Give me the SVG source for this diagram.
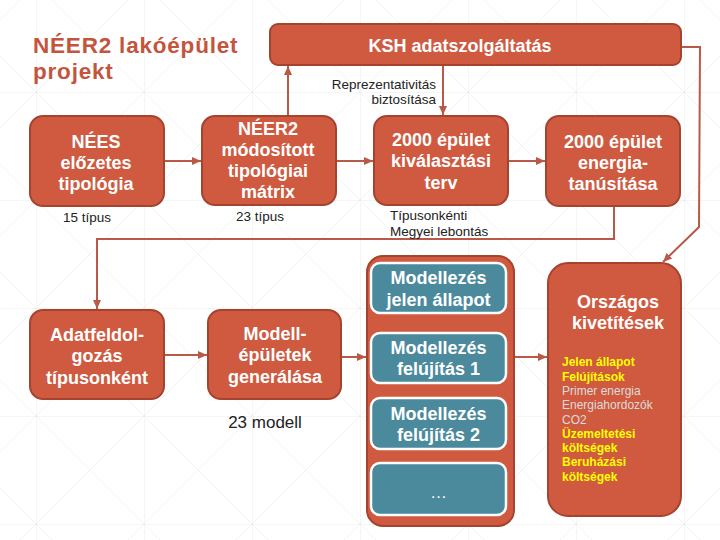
<svg xmlns="http://www.w3.org/2000/svg" width="720" height="540" viewBox="0 0 720 540">
<style>
.box{fill:#cf5a3f;stroke:#a5432f;stroke-width:2}
.inner{fill:#4b8a9c;stroke:#ffffff;stroke-width:2.5}
.bt{font-family:"Liberation Sans",Arial,sans-serif;font-weight:bold;font-size:18px;fill:#ffffff;text-anchor:middle}
.lbl{font-family:"Liberation Sans",Arial,sans-serif;font-size:13.5px;fill:#222222}
.con{fill:none;stroke:#b85a47;stroke-width:2}
.title{font-family:"Liberation Sans",Arial,sans-serif;font-weight:bold;font-size:22.5px;fill:#c4553d}
.yl{font-family:"Liberation Sans",Arial,sans-serif;font-weight:bold;font-size:12px;fill:#ffff00}
.gr{font-family:"Liberation Sans",Arial,sans-serif;font-size:12px;fill:#dcdcdc}
</style>
<defs>
<marker id="ah" markerWidth="10" markerHeight="10" refX="9" refY="5" orient="auto" markerUnits="userSpaceOnUse">
<path d="M0,1 L9,5 L0,9 Z" fill="#b85a47"/>
</marker>
<pattern id="grid" width="108" height="108" patternUnits="userSpaceOnUse" x="-72" y="-16">
<path d="M0,0 L108,108 M108,0 L0,108" stroke="#f3f3f3" stroke-width="1" fill="none"/>
<path d="M0,0 H108 M0,0 V108" stroke="#ececec" stroke-width="1" fill="none"/>
</pattern>
</defs>
<rect width="720" height="540" fill="#ffffff"/>
<rect width="720" height="540" fill="url(#grid)"/>

<g id="title">
<text class="title" x="33" y="53" letter-spacing="0.8">NÉER2 lakóépület</text>
<text class="title" x="33" y="79" letter-spacing="0.8">projekt</text>
</g>

<g id="connectors">
<line class="con" x1="164" y1="161" x2="201" y2="161" marker-end="url(#ah)"/>
<line class="con" x1="336" y1="161" x2="373" y2="161" marker-end="url(#ah)"/>
<line class="con" x1="508" y1="161" x2="545" y2="161" marker-end="url(#ah)"/>
<line class="con" x1="288" y1="116" x2="288" y2="66" marker-end="url(#ah)"/>
<line class="con" x1="443" y1="65" x2="443" y2="115" marker-end="url(#ah)"/>
<polyline class="con" points="681,47 700,47 699,227 663,262" marker-end="url(#ah)"/>
<polyline class="con" points="614,206 614,239 97,239 97,309" marker-end="url(#ah)"/>
<line class="con" x1="164" y1="355" x2="207" y2="355" marker-end="url(#ah)"/>
<line class="con" x1="341" y1="357" x2="366" y2="357" marker-end="url(#ah)"/>
<line class="con" x1="505" y1="357" x2="547" y2="357" marker-end="url(#ah)"/>
</g>

<g id="ksh">
<rect class="box" x="270" y="24" width="411" height="41" rx="8"/>
<text class="bt" x="460" y="52">KSH adatszolgáltatás</text>
</g>
<g id="repr-label">
<text class="lbl" x="436" y="89" text-anchor="end">Reprezentativitás</text>
<text class="lbl" x="436" y="104" text-anchor="end">biztosítása</text>
</g>

<g id="nees">
<rect class="box" x="30" y="116" width="134" height="90" rx="13"/>
<text class="bt" x="96" y="148">NÉES</text>
<text class="bt" x="96" y="169">előzetes</text>
<text class="bt" x="96" y="190">tipológia</text>
<text class="lbl" x="87" y="222" text-anchor="middle">15 típus</text>
</g>

<g id="neer2">
<rect class="box" x="202" y="116" width="134" height="89" rx="13"/>
<text class="bt" x="268" y="135">NÉER2</text>
<text class="bt" x="268" y="156">módosított</text>
<text class="bt" x="268" y="177">tipológiai</text>
<text class="bt" x="268" y="198">mátrix</text>
<text class="lbl" x="260" y="221" text-anchor="middle">23 típus</text>
</g>

<g id="kivalasztas">
<rect class="box" x="374" y="116" width="134" height="89" rx="13"/>
<text class="bt" x="441" y="146">2000 épület</text>
<text class="bt" x="441" y="167">kiválasztási</text>
<text class="bt" x="441" y="189">terv</text>
<text class="lbl" x="390" y="220">Típusonkénti</text>
<text class="lbl" x="390" y="236">Megyei lebontás</text>
</g>

<g id="tanusitas">
<rect class="box" x="546" y="116" width="134" height="90" rx="13"/>
<text class="bt" x="613" y="148">2000 épület</text>
<text class="bt" x="613" y="169">energia-</text>
<text class="bt" x="613" y="190">tanúsítása</text>
</g>

<g id="adatfeldolgozas">
<rect class="box" x="30" y="310" width="134" height="89" rx="13"/>
<text class="bt" x="97" y="341">Adatfeldol-</text>
<text class="bt" x="97" y="362">gozás</text>
<text class="bt" x="97" y="384">típusonként</text>
</g>

<g id="modellepuletek">
<rect class="box" x="208" y="310" width="133" height="89" rx="13"/>
<text class="bt" x="275" y="340">Modell-</text>
<text class="bt" x="275" y="361">épületek</text>
<text class="bt" x="275" y="383">generálása</text>
<text x="265" y="428" font-family="Liberation Sans, Arial, sans-serif" font-size="17" fill="#222222" text-anchor="middle">23 modell</text>
</g>

<g id="modellezes">
<rect class="box" x="367" y="256" width="147" height="270" rx="16"/>
<rect class="inner" x="371" y="263" width="135" height="50" rx="9"/>
<text class="bt" x="438.5" y="284">Modellezés</text>
<text class="bt" x="438.5" y="306">jelen állapot</text>
<rect class="inner" x="371" y="333" width="135" height="50" rx="9"/>
<text class="bt" x="438.5" y="354">Modellezés</text>
<text class="bt" x="438.5" y="375">felújítás 1</text>
<rect class="inner" x="371" y="398" width="135" height="51" rx="9"/>
<text class="bt" x="438.5" y="420">Modellezés</text>
<text class="bt" x="438.5" y="441">felújítás 2</text>
<rect class="inner" x="371" y="463" width="135" height="52" rx="9"/>
<text x="438.5" y="498" font-family="Liberation Sans, Arial, sans-serif" font-size="17" fill="#ffffff" text-anchor="middle">…</text>
</g>

<g id="orszagos">
<rect class="box" x="548" y="263" width="133" height="253" rx="20"/>
<text class="bt" x="618" y="308">Országos</text>
<text class="bt" x="618" y="329">kivetítések</text>
<text class="yl" x="562" y="366">Jelen állapot</text>
<text class="yl" x="562" y="381">Felújítások</text>
<text class="gr" x="562" y="395">Primer energia</text>
<text class="gr" x="562" y="409">Energiahordozók</text>
<text class="gr" x="562" y="424">CO2</text>
<text class="yl" x="562" y="438">Üzemeltetési</text>
<text class="yl" x="562" y="452">költségek</text>
<text class="yl" x="562" y="466">Beruházási</text>
<text class="yl" x="562" y="481">költségek</text>
</g>
</svg>
